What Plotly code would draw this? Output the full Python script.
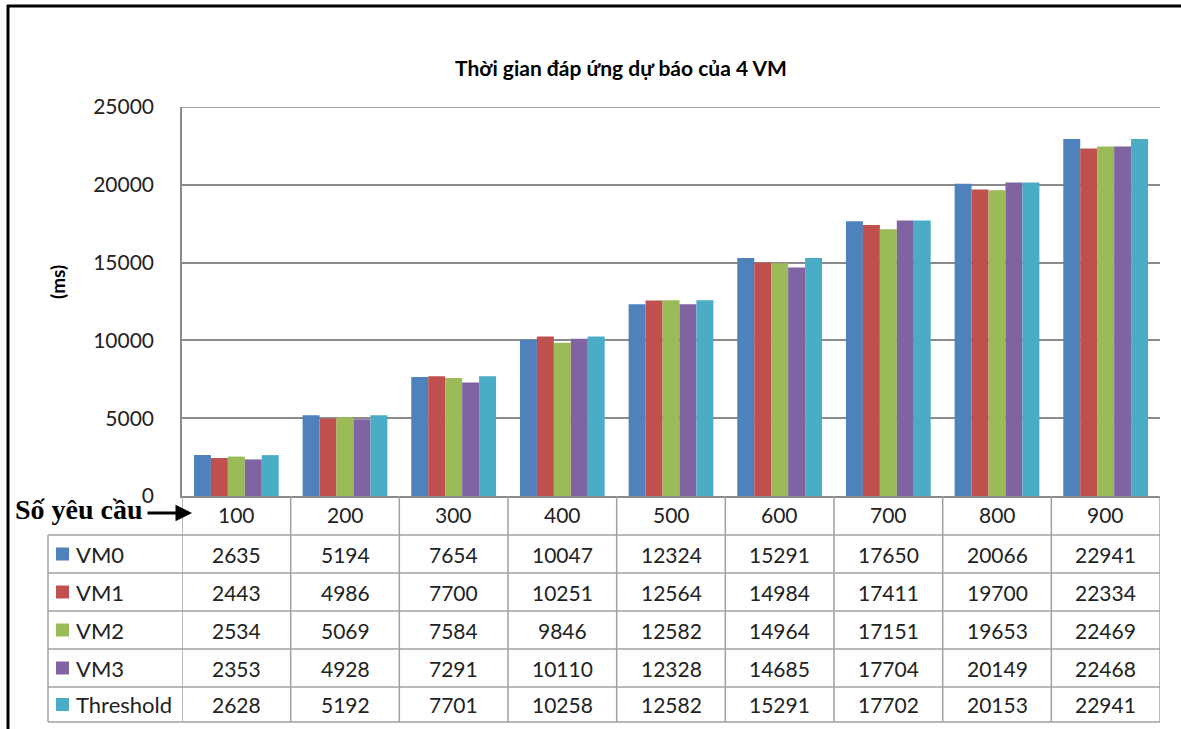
import plotly.graph_objects as go

W, H = 1181, 729

categories = ["100", "200", "300", "400", "500", "600", "700", "800", "900"]
series_names = ["VM0", "VM1", "VM2", "VM3", "Threshold"]
vm0 = [2635, 5194, 7654, 10047, 12324, 15291, 17650, 20066, 22941]
vm1 = [2443, 4986, 7700, 10251, 12564, 14984, 17411, 19700, 22334]
vm2 = [2534, 5069, 7584, 9846, 12582, 14964, 17151, 19653, 22469]
vm3 = [2353, 4928, 7291, 10110, 12328, 14685, 17704, 20149, 22468]
threshold = [2628, 5192, 7701, 10258, 12582, 15291, 17702, 20153, 22941]
series_values = [vm0, vm1, vm2, vm3, threshold]
colors = ["#4F81BD", "#C0504D", "#9BBB59", "#8064A2", "#4BACC6"]
y_ticks = [0, 5000, 10000, 15000, 20000, 25000]

title_text = "Thời gian đáp ứng dự báo của 4 VM"
y_label = "(ms)"
x_label = "Số yêu cầu"


def px(x):
    return x / W


def py(y):
    return 1 - y / H


# layout geometry (pixels)
PL, PR, PT, PB = 182, 1160, 107, 496
row_edges = [535, 573, 611, 649, 687, 722]
LEG_L = 48
FONT = "Lato"
GRID = "#8a8a8a"
TAB = "#a0a0a0"
TXT = "#222222"

fig = go.Figure()
for name, vals, c in zip(series_names, series_values, colors):
    fig.add_trace(go.Bar(x=categories, y=vals, name=name, marker_color=c,
                         marker_line_width=0, showlegend=False))

shapes = []
annotations = []


def note(x, y, text, xref="paper", size=21, family=FONT, color=TXT, **kw):
    d = dict(x=x, y=y, xref=xref, yref="paper", text=text, showarrow=False,
             xanchor="center", yanchor="middle",
             font=dict(family=family, size=size, color=color))
    d.update(kw)
    annotations.append(d)


# outer frame (left & top)
shapes.append(dict(type="line", xref="paper", yref="paper", x0=px(8), x1=px(8),
                   y0=py(5), y1=py(729), line=dict(color="black", width=3)))
shapes.append(dict(type="line", xref="paper", yref="paper", x0=px(7), x1=1,
                   y0=py(6), y1=py(6), line=dict(color="black", width=3)))

# top gridline (at the range maximum)
shapes.append(dict(type="line", xref="x domain", yref="y", x0=0, x1=1,
                   y0=y_ticks[-1], y1=y_ticks[-1], line=dict(color=GRID, width=1.5), layer="below"))

# table horizontal lines
for r in row_edges:
    shapes.append(dict(type="line", xref="paper", yref="paper", x0=px(LEG_L), x1=px(PR),
                       y0=py(r), y1=py(r), line=dict(color=TAB, width=1.5)))
# table vertical lines
n = len(categories)
for i in range(n + 1):
    shapes.append(dict(type="line", xref="x", yref="paper", x0=i - 0.5, x1=i - 0.5,
                       y0=py(PB), y1=py(row_edges[-1]), line=dict(color=TAB, width=1.5)))
shapes.append(dict(type="line", xref="paper", yref="paper", x0=px(LEG_L), x1=px(LEG_L),
                   y0=py(row_edges[0]), y1=py(row_edges[-1]), line=dict(color=TAB, width=1.5)))

# header row labels
for i, cat in enumerate(categories):
    note(i, py((PB + row_edges[0]) / 2 - 1), cat, xref="x")

# data rows
for k, (name, vals, c) in enumerate(zip(series_names, series_values, colors)):
    yc = (row_edges[k] + row_edges[k + 1]) / 2
    shapes.append(dict(type="rect", xref="paper", yref="paper", x0=px(56), x1=px(69),
                       y0=py(yc - 6.5), y1=py(yc + 6.5), fillcolor=c, line=dict(width=0)))
    note(px(74), py(yc), name, xanchor="left", size=22)
    for i, v in enumerate(vals):
        note(i, py(yc), str(v), xref="x")

# title
note(px(621), py(68), "<b>" + title_text + "</b>", size=21, color="black")
# y label
note(px(57), py(282), "<b>" + y_label + "</b>", size=19, color="black", textangle=-90)
# x label + arrow
note(px(13), py(509), "<b>" + x_label + "</b>", family="Liberation Serif", size=28,
     color="black", xanchor="left")
annotations.append(dict(x=px(192), y=py(513), xref="paper", yref="paper", text="",
                        showarrow=True, ax=-46, ay=0, arrowhead=2, arrowsize=1.1,
                        arrowwidth=3, arrowcolor="black"))

fig.update_layout(
    template="none",
    width=W, height=H, autosize=False,
    margin=dict(l=0, r=0, t=0, b=0, pad=0, autoexpand=False),
    paper_bgcolor="white", plot_bgcolor="white",
    barmode="group", bargap=0.22, bargroupgap=0,
    xaxis=dict(type="category", domain=[px(PL), px(PR)], range=[-0.5, n - 0.5],
               showticklabels=False, showgrid=False, showline=True, linecolor=GRID,
               linewidth=1.5, ticks="", fixedrange=True, automargin=False, zeroline=False),
    yaxis=dict(domain=[py(PB), py(PT)], range=[0, 25000], tickvals=y_ticks,
               ticktext=[str(t) for t in y_ticks], showgrid=True, gridcolor=GRID, gridwidth=1.5,
               showline=True, linecolor=GRID, linewidth=1.5, ticks="", ticklabelstandoff=22,
               tickfont=dict(family=FONT, size=21, color=TXT), zeroline=False, fixedrange=True,
               automargin=False),
    shapes=shapes, annotations=annotations, showlegend=False,
)

fig.write_html("out.html", config={"displayModeBar": False},
               post_script="document.body.style.margin='0';document.body.style.overflow='hidden';")
